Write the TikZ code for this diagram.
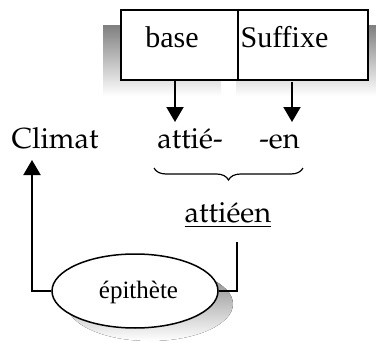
\documentclass[tikz,border=0pt]{standalone}
\usepackage{fontspec}
\setmainfont{Liberation Serif}
\usetikzlibrary{arrows.meta,shapes.geometric,decorations.pathreplacing}
\newcommand\palfont{\fontencoding{T1}\fontfamily{ppl}\selectfont}
\definecolor{shade}{HTML}{BFBFBF}
\tikzset{
  morph/.style={draw=black, line width=1.8pt, minimum height=70pt, inner sep=0pt, fill=white},
  label/.style={inner sep=0pt, anchor=base, font=\fontsize{30}{33}\selectfont},
  word/.style={inner sep=0pt, anchor=base, font=\palfont\fontsize{29}{32}\selectfont},
  link/.style={line width=2pt},
  arr/.style={link, -{Triangle[width=17pt,length=15pt]}},
}
\begin{document}
\begin{tikzpicture}[x=1pt, y=-1pt]
\useasboundingbox (0,0) rectangle (376,343);
% shadows behind the two morpheme boxes
\fill[shade] (103,25) rectangle (221,96);
\fill[shade] (236,25) rectangle (380,96);
% morpheme boxes
\node[morph, minimum width=117pt, anchor=north west] (base) at (120,9) {};
\node[morph, minimum width=130pt, anchor=north west] (suff) at (237,9) {};
\node[label] (baset) at (172,47) {base};
\node[label] (sufft) at (284.5,47) {Suffixe};
% words
\node[word] (climat) at (55,148) {Climat};
\node[word] (attie) at (190,148) {attié-};
\node[word] (en) at (279.5,148) {-en};
\node[word] (attieen) at (228,222) {attiéen};
\draw[line width=1.8pt] ([yshift=-4.5pt]attieen.base west) -- ([yshift=-4.5pt]attieen.base east);
% brace grouping the two parts
\draw[line width=1.2pt, decorate, decoration={brace, amplitude=12pt, mirror}]
  (154,168) coordinate (bl) -- (303,168) coordinate (br);
% epithete ellipse with its shadow
\fill[shade] (150,304) ellipse [x radius=83, y radius=37];
\node[ellipse, draw=black, fill=white, line width=1.5pt, minimum width=166pt, minimum height=74pt,
      inner sep=0pt] (epi) at (135,291) {};
\node[inner sep=0pt, anchor=base, font=\fontsize{25}{28}\selectfont] (epit) at (138.5,298) {épithète};
% arrows from the boxes to the word parts
\coordinate (bfrom) at (175,79);
\coordinate (bto) at (175,122);
\coordinate (sfrom) at (292,82);
\coordinate (sto) at (292,122);
\draw[arr] (bfrom) -- (bto);
\draw[arr] (sfrom) -- (sto);
% connectors to and from the ellipse
\coordinate (rtop) at (237,242);
\coordinate (ctip) at (32,160);
\draw[link] (rtop) |- (epi.east);
\draw[arr] (epi.west) -| (ctip);
\end{tikzpicture}
\end{document}
